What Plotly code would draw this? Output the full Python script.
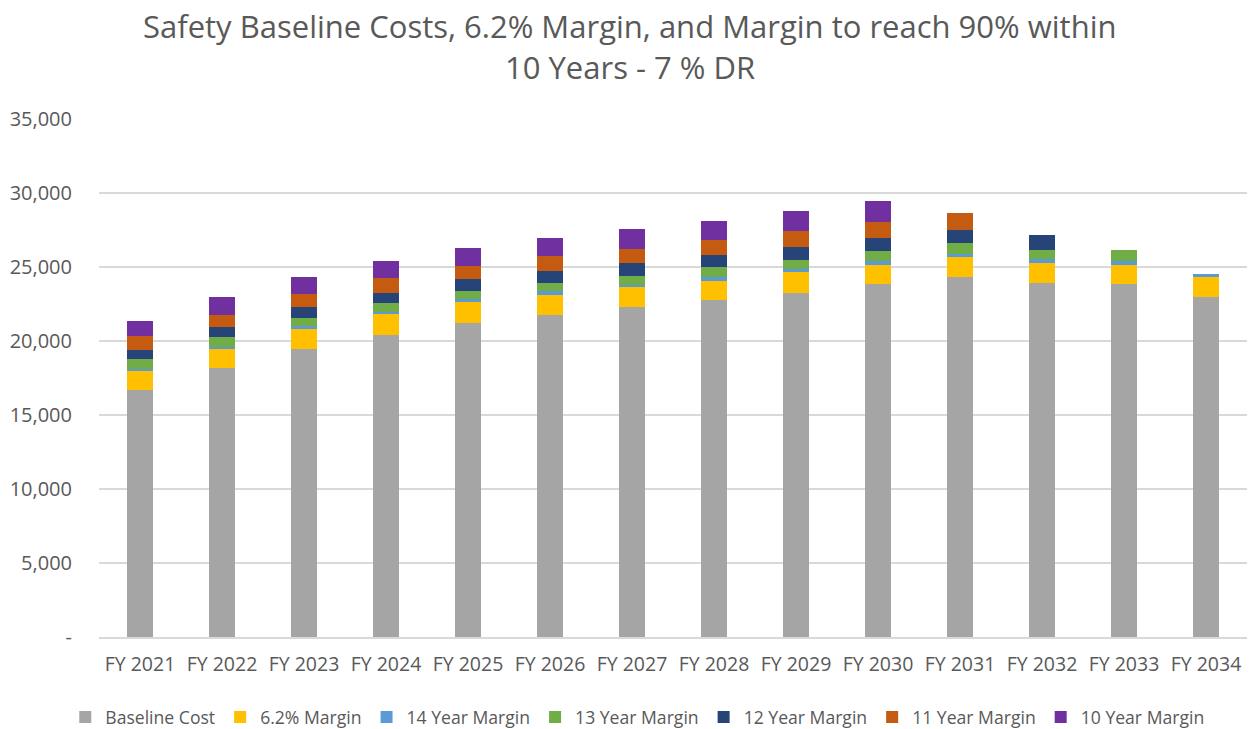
import plotly.graph_objects as go

years = ["FY 2021", "FY 2022", "FY 2023", "FY 2024", "FY 2025", "FY 2026", "FY 2027",
         "FY 2028", "FY 2029", "FY 2030", "FY 2031", "FY 2032", "FY 2033", "FY 2034"]

baseline = [16690, 18160, 19460, 20410, 21200, 21780, 22280, 22770, 23260, 23830, 24340, 23940, 23830, 22990]
margin_62 = [1350, 1300, 1370, 1390, 1440, 1310, 1350, 1300, 1400, 1330, 1320, 1310, 1330, 1350]
margin_14 = [60, 150, 180, 160, 180, 270, 170, 250, 200, 270, 240, 270, 270, 170]
margin_13 = [660, 640, 560, 590, 540, 560, 610, 660, 610, 630, 720, 630, 720, 0]
margin_12 = [650, 720, 730, 710, 810, 830, 840, 810, 900, 880, 900, 990, 0, 0]
margin_11 = [910, 810, 900, 1000, 900, 990, 970, 1010, 1080, 1100, 1110, 0, 0, 0]
margin_10 = [1050, 1170, 1140, 1170, 1230, 1220, 1330, 1330, 1330, 1400, 0, 0, 0, 0]

series = [
    ("Baseline Cost", baseline, "#A5A5A5"),
    ("6.2% Margin", margin_62, "#FFC000"),
    ("14 Year Margin", margin_14, "#5B9BD5"),
    ("13 Year Margin", margin_13, "#70AD47"),
    ("12 Year Margin", margin_12, "#264478"),
    ("11 Year Margin", margin_11, "#C55A11"),
    ("10 Year Margin", margin_10, "#7030A0"),
]

title_lines = ["Safety Baseline Costs, 6.2% Margin, and Margin to reach 90% within",
               "10 Years - 7 % DR"]

y_tickvals = [0, 5000, 10000, 15000, 20000, 25000, 30000, 35000]
y_ticktext = ["-", "5,000", "10,000", "15,000", "20,000", "25,000", "30,000", "35,000"]

fig = go.Figure()
for name, vals, color in series:
    fig.add_trace(go.Bar(name=name, x=years, y=vals, marker=dict(color=color, line=dict(width=0))))

font_family = "Open Sans, sans-serif"
txt = "#595959"
for i, line in enumerate(title_lines):
    fig.add_annotation(text=line, xref="paper", yref="paper",
                       x=0.4626, y=[1.1795, 1.1005][i], xanchor="center", yanchor="middle",
                       showarrow=False, font=dict(family=font_family, size=31, color=txt))

fig.update_layout(
    barmode="stack",
    bargap=0.69,
    width=1252, height=729,
    paper_bgcolor="white", plot_bgcolor="white",
    margin=dict(l=99, r=5, t=119, b=92),
    font=dict(family=font_family, size=18, color=txt),
    legend=dict(orientation="h", xref="container", yref="container",
                x=0.509, xanchor="center", y=0.0165, yanchor="middle",
                font=dict(size=17.6, color=txt), traceorder="normal", itemwidth=30),
    showlegend=True,
)
fig.update_xaxes(showgrid=False, showline=True, linecolor="#D9D9D9", linewidth=1.5,
                 tickfont=dict(size=19.5, color=txt), ticks="", ticklabelstandoff=9)
fig.update_yaxes(range=[0, 35000], tickvals=y_tickvals, ticktext=y_ticktext,
                 showgrid=True, gridcolor="#D9D9D9", gridwidth=1.5, zeroline=False,
                 tickfont=dict(size=20, color=txt), ticks="", ticklabelstandoff=26)

fig.write_html("out.html", config={"displayModeBar": False},
               post_script="document.body.style.margin='0';document.body.style.overflow='hidden';")
